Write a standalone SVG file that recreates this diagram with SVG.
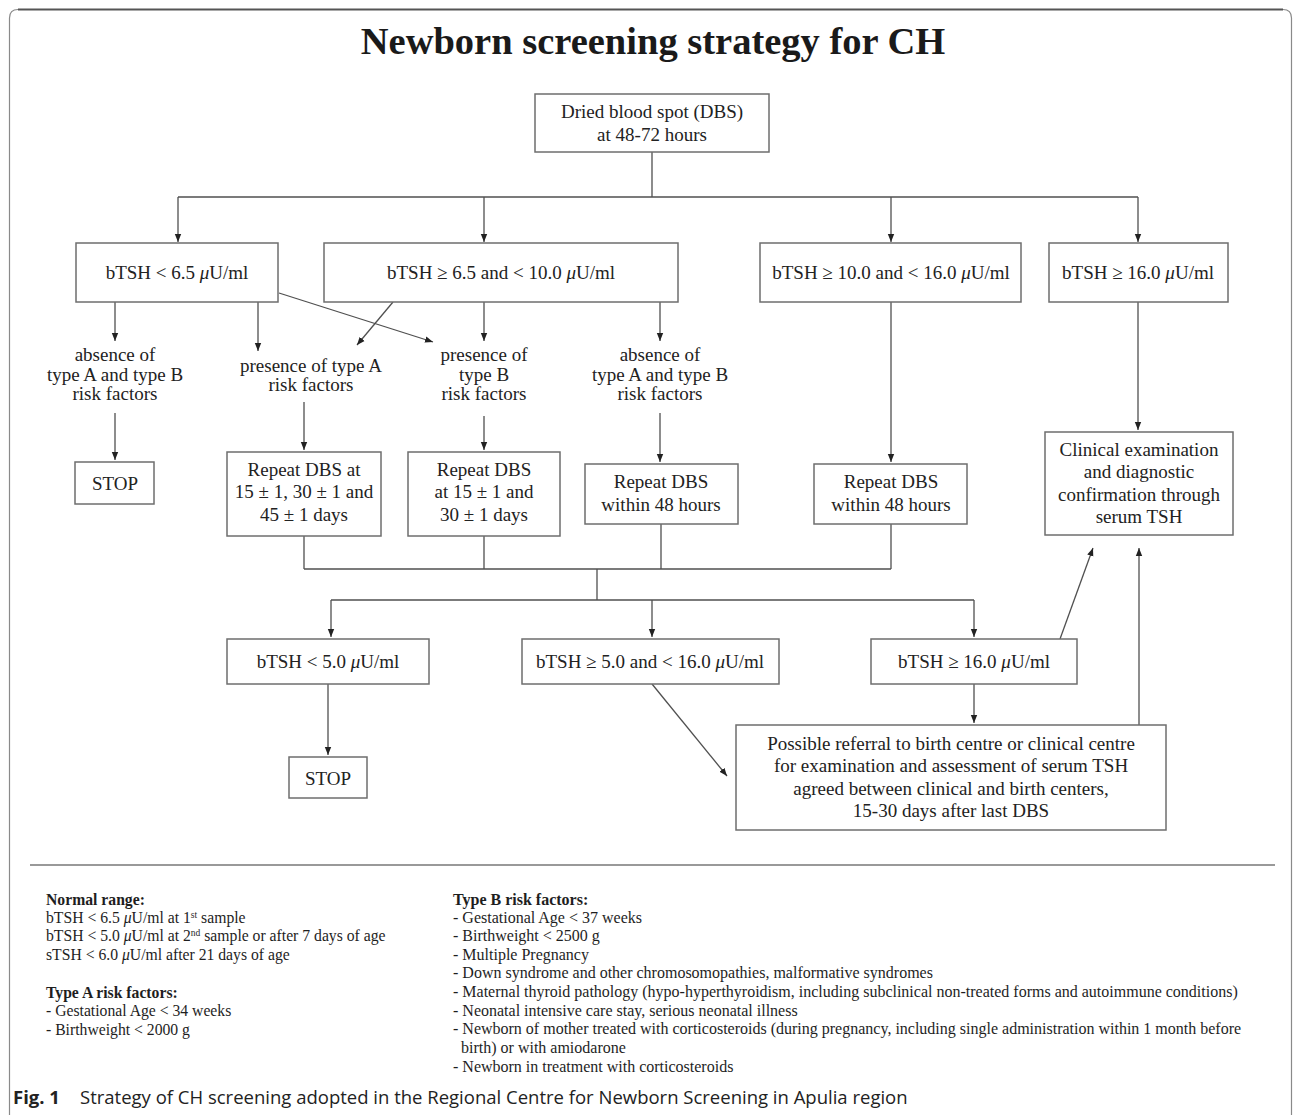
<svg xmlns="http://www.w3.org/2000/svg" width="1295" height="1115" viewBox="0 0 1295 1115">
<style>
.bx{fill:#fff;stroke:#6e6e6e;stroke-width:1.5}
.ln{stroke:#505050;stroke-width:1.3;fill:none}
.t{font-family:"Liberation Serif","Times New Roman",serif;font-size:19px;fill:#222;text-anchor:middle}
.lg{font-family:"Liberation Serif","Times New Roman",serif;font-size:15.7px;fill:#1e1e1e}
.lgb{font-family:"Liberation Serif","Times New Roman",serif;font-size:16px;fill:#1e1e1e}
.lb{font-weight:bold}
.mu{font-style:italic}
.cap{font-family:"Open Sans","Noto Sans",sans-serif;font-size:18.5px;fill:#222}
</style>
<defs>
<marker id="ah" viewBox="0 0 10 10" refX="10" refY="5" markerWidth="8" markerHeight="8" markerUnits="userSpaceOnUse" orient="auto">
<path d="M0,1 L10,5 L0,9 z" fill="#222"/>
</marker>
</defs>
<rect width="1295" height="1115" fill="#fff"/>
<path d="M9.5,1115 L9.5,1106 L9.5,18 Q9.5,9.5 18,9.5 L1283,9.5 Q1291.5,9.5 1291.5,18 L1291.5,1115" fill="none" stroke="#8a8a8a" stroke-width="1.2"/>
<path d="M18,9.5 L1283,9.5" stroke="#555" stroke-width="2" fill="none"/>
<text x="653" y="54" style="font-family:'Liberation Serif','Times New Roman',serif;font-size:38.5px;font-weight:bold;fill:#1a1a1a" text-anchor="middle">Newborn screening strategy for CH</text>

<g id="connectors">
<path class="ln" d="M652,152 V197 M178,197 H1138"/>
<path class="ln" d="M178,197 V242" marker-end="url(#ah)"/>
<path class="ln" d="M484,197 V242" marker-end="url(#ah)"/>
<path class="ln" d="M891,197 V242" marker-end="url(#ah)"/>
<path class="ln" d="M1138,197 V242" marker-end="url(#ah)"/>
<path class="ln" d="M115,302 V341" marker-end="url(#ah)"/>
<path class="ln" d="M258,302 V351" marker-end="url(#ah)"/>
<path class="ln" d="M279,293 L433,342" marker-end="url(#ah)"/>
<path class="ln" d="M393,302 L357,345" marker-end="url(#ah)"/>
<path class="ln" d="M484,302 V341" marker-end="url(#ah)"/>
<path class="ln" d="M660,302 V341" marker-end="url(#ah)"/>
<path class="ln" d="M115,413 V460" marker-end="url(#ah)"/>
<path class="ln" d="M304,402 V450" marker-end="url(#ah)"/>
<path class="ln" d="M484,416 V450" marker-end="url(#ah)"/>
<path class="ln" d="M660,413 V462" marker-end="url(#ah)"/>
<path class="ln" d="M891,302 V462" marker-end="url(#ah)"/>
<path class="ln" d="M1138,302 V430" marker-end="url(#ah)"/>
<path class="ln" d="M304,536 V569 M484,536 V569 M661,524 V569 M891,524 V569 M304,569 H891 M597,569 V600 M331,600 H974"/>
<path class="ln" d="M331,600 V637" marker-end="url(#ah)"/>
<path class="ln" d="M652,600 V637" marker-end="url(#ah)"/>
<path class="ln" d="M974,600 V637" marker-end="url(#ah)"/>
<path class="ln" d="M328,684 V755" marker-end="url(#ah)"/>
<path class="ln" d="M652,684 L727,776" marker-end="url(#ah)"/>
<path class="ln" d="M974,684 V723" marker-end="url(#ah)"/>
<path class="ln" d="M1060,639 L1093,548" marker-end="url(#ah)"/>
<path class="ln" d="M1139,725 V548" marker-end="url(#ah)"/>
</g>

<g id="dbs"><rect class="bx" x="535" y="94" width="234" height="58"/>
<text class="t" x="652" y="118">Dried blood spot (DBS)</text>
<text class="t" x="652" y="141">at 48-72 hours</text></g>

<g id="n1"><rect class="bx" x="76" y="243" width="202" height="59"/>
<text class="t" x="177" y="279">bTSH &lt; 6.5 <tspan class="mu">μ</tspan>U/ml</text></g>
<g id="n2"><rect class="bx" x="324" y="243" width="354" height="59"/>
<text class="t" x="501" y="279">bTSH ≥ 6.5 and &lt; 10.0 <tspan class="mu">μ</tspan>U/ml</text></g>
<g id="n3"><rect class="bx" x="760" y="243" width="261" height="59"/>
<text class="t" x="891" y="279">bTSH ≥ 10.0 and &lt; 16.0 <tspan class="mu">μ</tspan>U/ml</text></g>
<g id="n4"><rect class="bx" x="1049" y="243" width="179" height="59"/>
<text class="t" x="1138" y="279">bTSH ≥ 16.0 <tspan class="mu">μ</tspan>U/ml</text></g>

<g id="l1"><text class="t" x="115" y="361">absence of</text><text class="t" x="115" y="381">type A and type B</text><text class="t" x="115" y="400">risk factors</text></g>
<g id="l2"><text class="t" x="311" y="372">presence of type A</text><text class="t" x="311" y="391">risk factors</text></g>
<g id="l3"><text class="t" x="484" y="361">presence of</text><text class="t" x="484" y="381">type B</text><text class="t" x="484" y="400">risk factors</text></g>
<g id="l4"><text class="t" x="660" y="361">absence of</text><text class="t" x="660" y="381">type A and type B</text><text class="t" x="660" y="400">risk factors</text></g>

<g id="stop1"><rect class="bx" x="75" y="462" width="79" height="42"/>
<text class="t" x="115" y="490">STOP</text></g>
<g id="ra"><rect class="bx" x="227" y="452" width="154" height="84"/>
<text class="t" x="304" y="476">Repeat DBS at</text><text class="t" x="304" y="498">15 ± 1, 30 ± 1 and</text><text class="t" x="304" y="521">45 ± 1 days</text></g>
<g id="rb"><rect class="bx" x="408" y="452" width="152" height="84"/>
<text class="t" x="484" y="476">Repeat DBS</text><text class="t" x="484" y="498">at 15 ± 1 and</text><text class="t" x="484" y="521">30 ± 1 days</text></g>
<g id="r1"><rect class="bx" x="585" y="464" width="153" height="60"/>
<text class="t" x="661" y="488">Repeat DBS</text><text class="t" x="661" y="511">within 48 hours</text></g>
<g id="r2"><rect class="bx" x="814" y="464" width="153" height="60"/>
<text class="t" x="891" y="488">Repeat DBS</text><text class="t" x="891" y="511">within 48 hours</text></g>
<g id="clin"><rect class="bx" x="1045" y="432" width="188" height="103"/>
<text class="t" x="1139" y="456">Clinical examination</text><text class="t" x="1139" y="478">and diagnostic</text><text class="t" x="1139" y="501">confirmation through</text><text class="t" x="1139" y="523">serum TSH</text></g>

<g id="m1"><rect class="bx" x="227" y="639" width="202" height="45"/>
<text class="t" x="328" y="668">bTSH &lt; 5.0 <tspan class="mu">μ</tspan>U/ml</text></g>
<g id="m2"><rect class="bx" x="522" y="639" width="257" height="45"/>
<text class="t" x="650" y="668">bTSH ≥ 5.0 and &lt; 16.0 <tspan class="mu">μ</tspan>U/ml</text></g>
<g id="m3"><rect class="bx" x="871" y="639" width="206" height="45"/>
<text class="t" x="974" y="668">bTSH ≥ 16.0 <tspan class="mu">μ</tspan>U/ml</text></g>
<g id="stop2"><rect class="bx" x="289" y="757" width="78" height="41"/>
<text class="t" x="328" y="785">STOP</text></g>
<g id="poss"><rect class="bx" x="736" y="725" width="430" height="105"/>
<text class="t" x="951" y="750">Possible referral to birth centre or clinical centre</text>
<text class="t" x="951" y="772">for examination and assessment of serum TSH</text>
<text class="t" x="951" y="795">agreed between clinical and birth centers,</text>
<text class="t" x="951" y="817">15-30 days after last DBS</text></g>

<line x1="30" y1="865" x2="1275" y2="865" stroke="#777" stroke-width="1.5"/>

<g id="legend-a">
<text class="lg lb" x="46" y="905">Normal range:</text>
<text class="lg" x="46" y="923">bTSH &lt; 6.5 <tspan class="mu">μ</tspan>U/ml at 1<tspan font-size="9.5" dy="-5">st</tspan><tspan dy="5"> sample</tspan></text>
<text class="lg" x="46" y="941">bTSH &lt; 5.0 <tspan class="mu">μ</tspan>U/ml at 2<tspan font-size="9.5" dy="-5">nd</tspan><tspan dy="5"> sample or after 7 days of age</tspan></text>
<text class="lg" x="46" y="960">sTSH &lt; 6.0 <tspan class="mu">μ</tspan>U/ml after 21 days of age</text>
<text class="lg lb" x="46" y="998">Type A risk factors:</text>
<text class="lg" x="46" y="1016">- Gestational Age &lt; 34 weeks</text>
<text class="lg" x="46" y="1035">- Birthweight &lt; 2000 g</text>
</g>
<g id="legend-b">
<text class="lgb lb" x="453" y="905">Type B risk factors:</text>
<text class="lgb" x="453" y="923">- Gestational Age &lt; 37 weeks</text>
<text class="lgb" x="453" y="941">- Birthweight &lt; 2500 g</text>
<text class="lgb" x="453" y="960">- Multiple Pregnancy</text>
<text class="lgb" x="453" y="978">- Down syndrome and other chromosomopathies, malformative syndromes</text>
<text class="lgb" x="453" y="997">- Maternal thyroid pathology (hypo-hyperthyroidism, including subclinical non-treated forms and autoimmune conditions)</text>
<text class="lgb" x="453" y="1016">- Neonatal intensive care stay, serious neonatal illness</text>
<text class="lgb" x="453" y="1034">- Newborn of mother treated with corticosteroids (during pregnancy, including single administration within 1 month before</text>
<text class="lgb" x="461" y="1053">birth) or with amiodarone</text>
<text class="lgb" x="453" y="1072">- Newborn in treatment with corticosteroids</text>
</g>

<g id="caption">
<text class="cap" x="13" y="1104"><tspan font-weight="bold">Fig. 1</tspan><tspan x="80">Strategy of CH screening adopted in the Regional Centre for Newborn Screening in Apulia region</tspan></text>
</g>
</svg>
